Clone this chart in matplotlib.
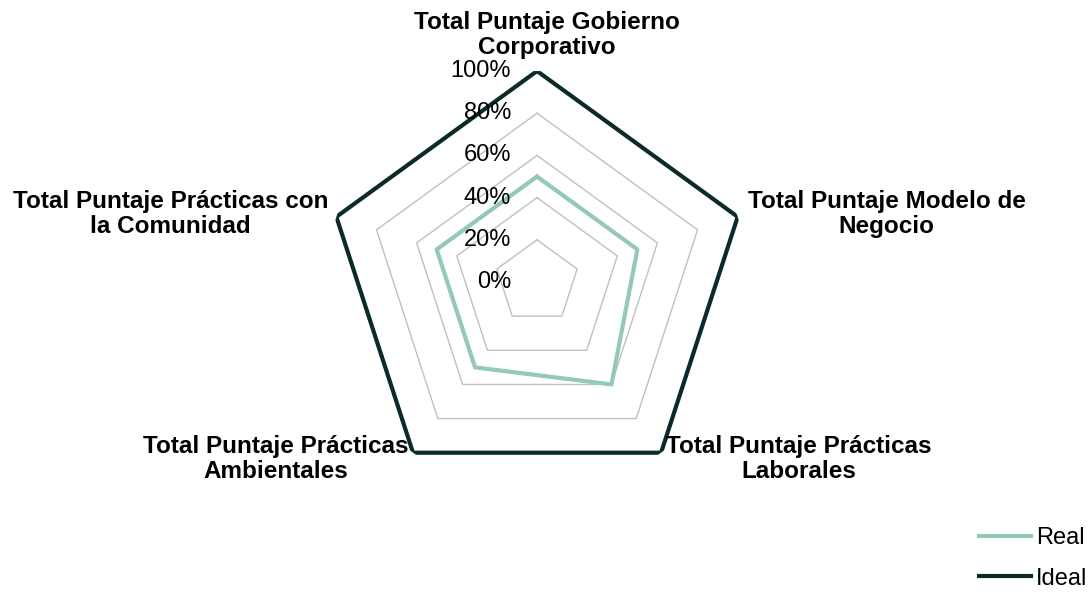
import numpy as np
import matplotlib
matplotlib.use("Agg")
import matplotlib.pyplot as plt
from matplotlib.transforms import ScaledTranslation

plt.rcParams['font.family'] = ['Liberation Sans', 'DejaVu Sans']

# datos
categorias = ["Total Puntaje Gobierno\nCorporativo",
              "Total Puntaje Modelo de\nNegocio",
              "Total Puntaje Prácticas\nLaborales",
              "Total Puntaje Prácticas\nAmbientales",
              "Total Puntaje Prácticas con\nla Comunidad"]
real = [0.50, 0.50, 0.60, 0.50, 0.50]
ideal = [1.0, 1.0, 1.0, 1.0, 1.0]
ticks = [0.0, 0.2, 0.4, 0.6, 0.8, 1.0]
tick_labels = ["0%", "20%", "40%", "60%", "80%", "100%"]

color_real = "#93C8BB"
color_ideal = "#0C2A2A"
color_grid = "#C0C0C0"

fig = plt.figure(figsize=(10.9, 5.92), dpi=100)
ax = fig.add_axes([0.2991, 0.1672, 0.3872, 0.7128], projection='polar')
ax.set_theta_offset(np.pi / 2)
ax.set_theta_direction(-1)
ax.set_ylim(0, 1)
ax.axis('off')

n = len(categorias)
ang = np.linspace(0, 2 * np.pi, n, endpoint=False)
ang_c = np.append(ang, ang[0])

# anillos grises
for t in ticks[1:-1]:
    ax.plot(ang_c, [t] * (n + 1), color=color_grid, lw=1.0, zorder=1)

l_real, = ax.plot(ang_c, real + real[:1], color=color_real, lw=3, label="Real", zorder=3)
l_ideal, = ax.plot(ang_c, ideal + ideal[:1], color=color_ideal, lw=3, label="Ideal", zorder=3)

# etiquetas del eje
off = ax.transData + ScaledTranslation(-0.26, 0, fig.dpi_scale_trans)
for t, lab in zip(ticks, tick_labels):
    ax.text(0, t, lab, transform=off, ha='right', va='center', fontsize=17)

# etiquetas de categorias
pos = [(0.10, 0.12, 'center', 'bottom'),
       (0.10, 0.03, 'left', 'center'),
       (0.05, -0.06, 'left', 'center'),
       (-0.05, -0.06, 'right', 'center'),
       (-0.08, 0.03, 'right', 'center')]
for a, lab, (dx, dy, ha, va) in zip(ang, categorias, pos):
    tr = ax.transData + ScaledTranslation(dx, dy, fig.dpi_scale_trans)
    ax.text(a, 1.0, lab, transform=tr, ha=ha, va=va, fontsize=17.5,
            fontweight='bold', multialignment='center', linespacing=1.12)

fig.legend(handles=[l_real, l_ideal], loc='lower right', bbox_to_anchor=(1.006, -0.012),
           frameon=False, fontsize=17, handlelength=2.2, handletextpad=0.2,
           labelspacing=0.8, borderaxespad=0.0)

fig.savefig("out.png", dpi=100)
